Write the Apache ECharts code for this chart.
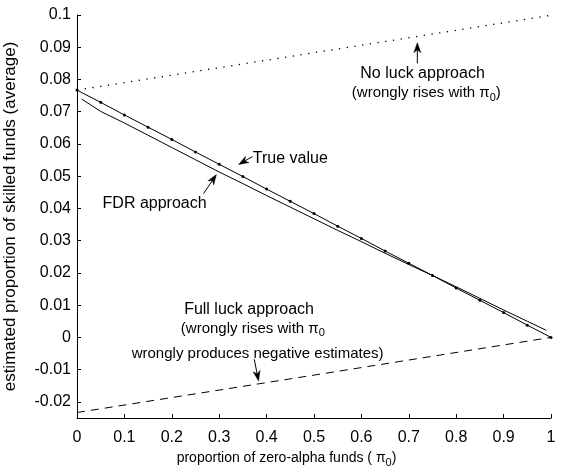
<!DOCTYPE html>
<html>
<head>
<meta charset="utf-8">
<script src="https://cdn.jsdelivr.net/npm/echarts@6/dist/echarts.min.js"></script>
<style>
html,body{margin:0;padding:0;background:#fff;}
#c{width:561px;height:468px;}
</style>
</head>
<body>
<div id="c"></div>
<script>
// ---- data ----
const xTrue = [0,0.05,0.1,0.15,0.2,0.25,0.3,0.35,0.4,0.45,0.5,0.55,0.6,0.65,0.7,0.75,0.8,0.85,0.9,0.95,1];
const trueVals = [0.0767,0.0729,0.0690,0.0652,0.0614,0.0575,0.0537,0.0499,0.0460,0.0422,0.0384,0.0345,0.0307,0.0268,0.0230,0.0192,0.0153,0.0115,0.0077,0.0038,0.0000];
const xFdr = [0.01,0.05,0.1,0.15,0.2,0.25,0.3,0.35,0.4,0.45,0.5,0.55,0.6,0.65,0.7,0.75,0.8,0.85,0.9,0.95,0.99];
const fdrVals = [0.0739,0.0701,0.0665,0.0627,0.0589,0.0551,0.0513,0.0477,0.0440,0.0404,0.0368,0.0332,0.0297,0.0261,0.0226,0.0192,0.0157,0.0121,0.0085,0.0050,0.0022];
const xNoLuck = [0,0.5,1];
const noLuckVals = [0.0767,0.0883,0.0999];
const xFullLuck = [0,0.5,1];
const fullLuckVals = [-0.0233,-0.0117,0.0000];
const xTicks = [0,0.1,0.2,0.3,0.4,0.5,0.6,0.7,0.8,0.9,1];
const yTicks = [-0.02,-0.01,0,0.01,0.02,0.03,0.04,0.05,0.06,0.07,0.08,0.09,0.1];

const FONT = '"Liberation Sans", Arial, sans-serif';
const pairs = (xs, ys) => xs.map((x, i) => [x, ys[i]]);
const fmt = v => String(+(+v).toFixed(4));

const chart = echarts.init(document.getElementById('c'), null, {renderer: 'canvas'});
const option = {
  animation: false,
  backgroundColor: '#fff',
  grid: {left: 77, right: 10, top: 15, bottom: 50, containLabel: false, outerBoundsMode: 'none'},
  xAxis: {
    type: 'value', min: 0, max: 1, interval: 0.1,
    axisLine: {onZero: false, lineStyle: {color: '#000', width: 1}},
    axisTick: {inside: true, length: 4, lineStyle: {color: '#000'}, customValues: xTicks},
    axisLabel: {color: '#000', fontFamily: FONT, fontSize: 16, margin: 12, formatter: fmt, customValues: xTicks},
    splitLine: {show: false},
    name: 'proportion of zero-alpha funds ( {pi|π}{sub|0})',
    nameLocation: 'middle', nameGap: 21,
    nameTextStyle: {color: '#000', fontFamily: FONT, fontSize: 14, padding: [0, 55, 0, 0],
      rich: {pi: {fontSize: 14, fontFamily: FONT}, sub: {fontSize: 11, fontFamily: FONT, padding: [10, 0, 0, 0]}}}
  },
  yAxis: {
    type: 'value', min: -0.025, max: 0.1,
    axisLine: {show: true, onZero: false, lineStyle: {color: '#000', width: 1}},
    axisTick: {show: true, inside: true, length: 4, lineStyle: {color: '#000'}, customValues: yTicks},
    axisLabel: {color: '#000', fontFamily: FONT, fontSize: 16, margin: 6, formatter: fmt, customValues: yTicks},
    splitLine: {show: false},
    name: 'estimated proportion of skilled funds (average)',
    nameLocation: 'middle', nameGap: 58, nameRotate: 90,
    nameTextStyle: {color: '#000', fontFamily: FONT, fontSize: 17, padding: [0, 0, 0, 0]}
  },
  series: [
    {name: 'True value', type: 'line', data: pairs(xTrue, trueVals),
     symbol: 'circle', symbolSize: 3, showAllSymbol: true,
     itemStyle: {color: '#000'}, lineStyle: {color: '#000', width: 1}},
    {name: 'FDR approach', type: 'line', data: pairs(xFdr, fdrVals), symbol: 'none',
     lineStyle: {color: '#000', width: 1}},
    {name: 'No luck approach', type: 'line', data: pairs(xNoLuck, noLuckVals), symbol: 'none',
     lineStyle: {color: '#000', width: 1.3, type: [1.3, 6.5]}},
    {name: 'Full luck approach', type: 'line', data: pairs(xFullLuck, fullLuckVals), symbol: 'none',
     lineStyle: {color: '#000', width: 1, type: [8, 6]}}
  ]
};
chart.setOption(option);

// ---- annotations (anchored in data coordinates) ----
const toPx = p => chart.convertToPixel({gridIndex: 0}, p);
function arrow(tailD, headD) {
  const t = toPx(tailD), h = toPx(headD);
  const dx = h[0] - t[0], dy = h[1] - t[1], L = Math.hypot(dx, dy);
  const ux = dx / L, uy = dy / L, px = -uy, py = ux;
  const hl = 10, hw = 3.5, notch = 3;
  const bx = h[0] - ux * hl, by = h[1] - uy * hl;
  const nx = h[0] - ux * (hl - notch), ny = h[1] - uy * (hl - notch);
  return [
    {type: 'polyline', shape: {points: [t, [nx, ny]]}, style: {stroke: '#000', lineWidth: 1, fill: null}},
    {type: 'polygon', shape: {points: [h, [bx + px * hw, by + py * hw], [nx, ny], [bx - px * hw, by - py * hw]]},
     style: {fill: '#000', stroke: '#000', lineWidth: 0.5}}
  ];
}
function label(d, text, size, align, rich) {
  const p = toPx(d);
  return {type: 'text', x: p[0], y: p[1],
    style: {text: text, fontFamily: FONT, fontSize: size, fill: '#000', align: align, verticalAlign: 'middle', rich: rich || {}}};
}
const subRich = {sub: {fontSize: 11, fontFamily: FONT, padding: [10, 0, 0, 0]}, pi: {fontSize: 15, fontFamily: FONT}};
const g = [];
g.push(...arrow([0.370, 0.0561], [0.341, 0.0536]));
g.push(label([0.371, 0.0556], 'True value', 16, 'left'));
g.push(...arrow([0.267, 0.0446], [0.294, 0.0505]));
g.push(label([0.054, 0.0414], 'FDR approach', 16, 'left'));
g.push(...arrow([0.718, 0.0850], [0.718, 0.0914]));
g.push(label([0.729, 0.0819], 'No luck approach', 16, 'center'));
g.push(label([0.737, 0.0757], '(wrongly rises with {pi|π}{sub|0})', 15, 'center', subRich));
g.push(label([0.363, 0.0087], 'Full luck approach', 16, 'center'));
g.push(label([0.219, 0.0028], '(wrongly rises with {pi|π}{sub|0}', 15, 'left', subRich));
g.push(label([0.381, -0.0050], 'wrongly produces negative estimates)', 15, 'center'));
g.push(...arrow([0.374, -0.0068], [0.383, -0.0135]));
chart.setOption({graphic: g});
</script>
</body>
</html>
